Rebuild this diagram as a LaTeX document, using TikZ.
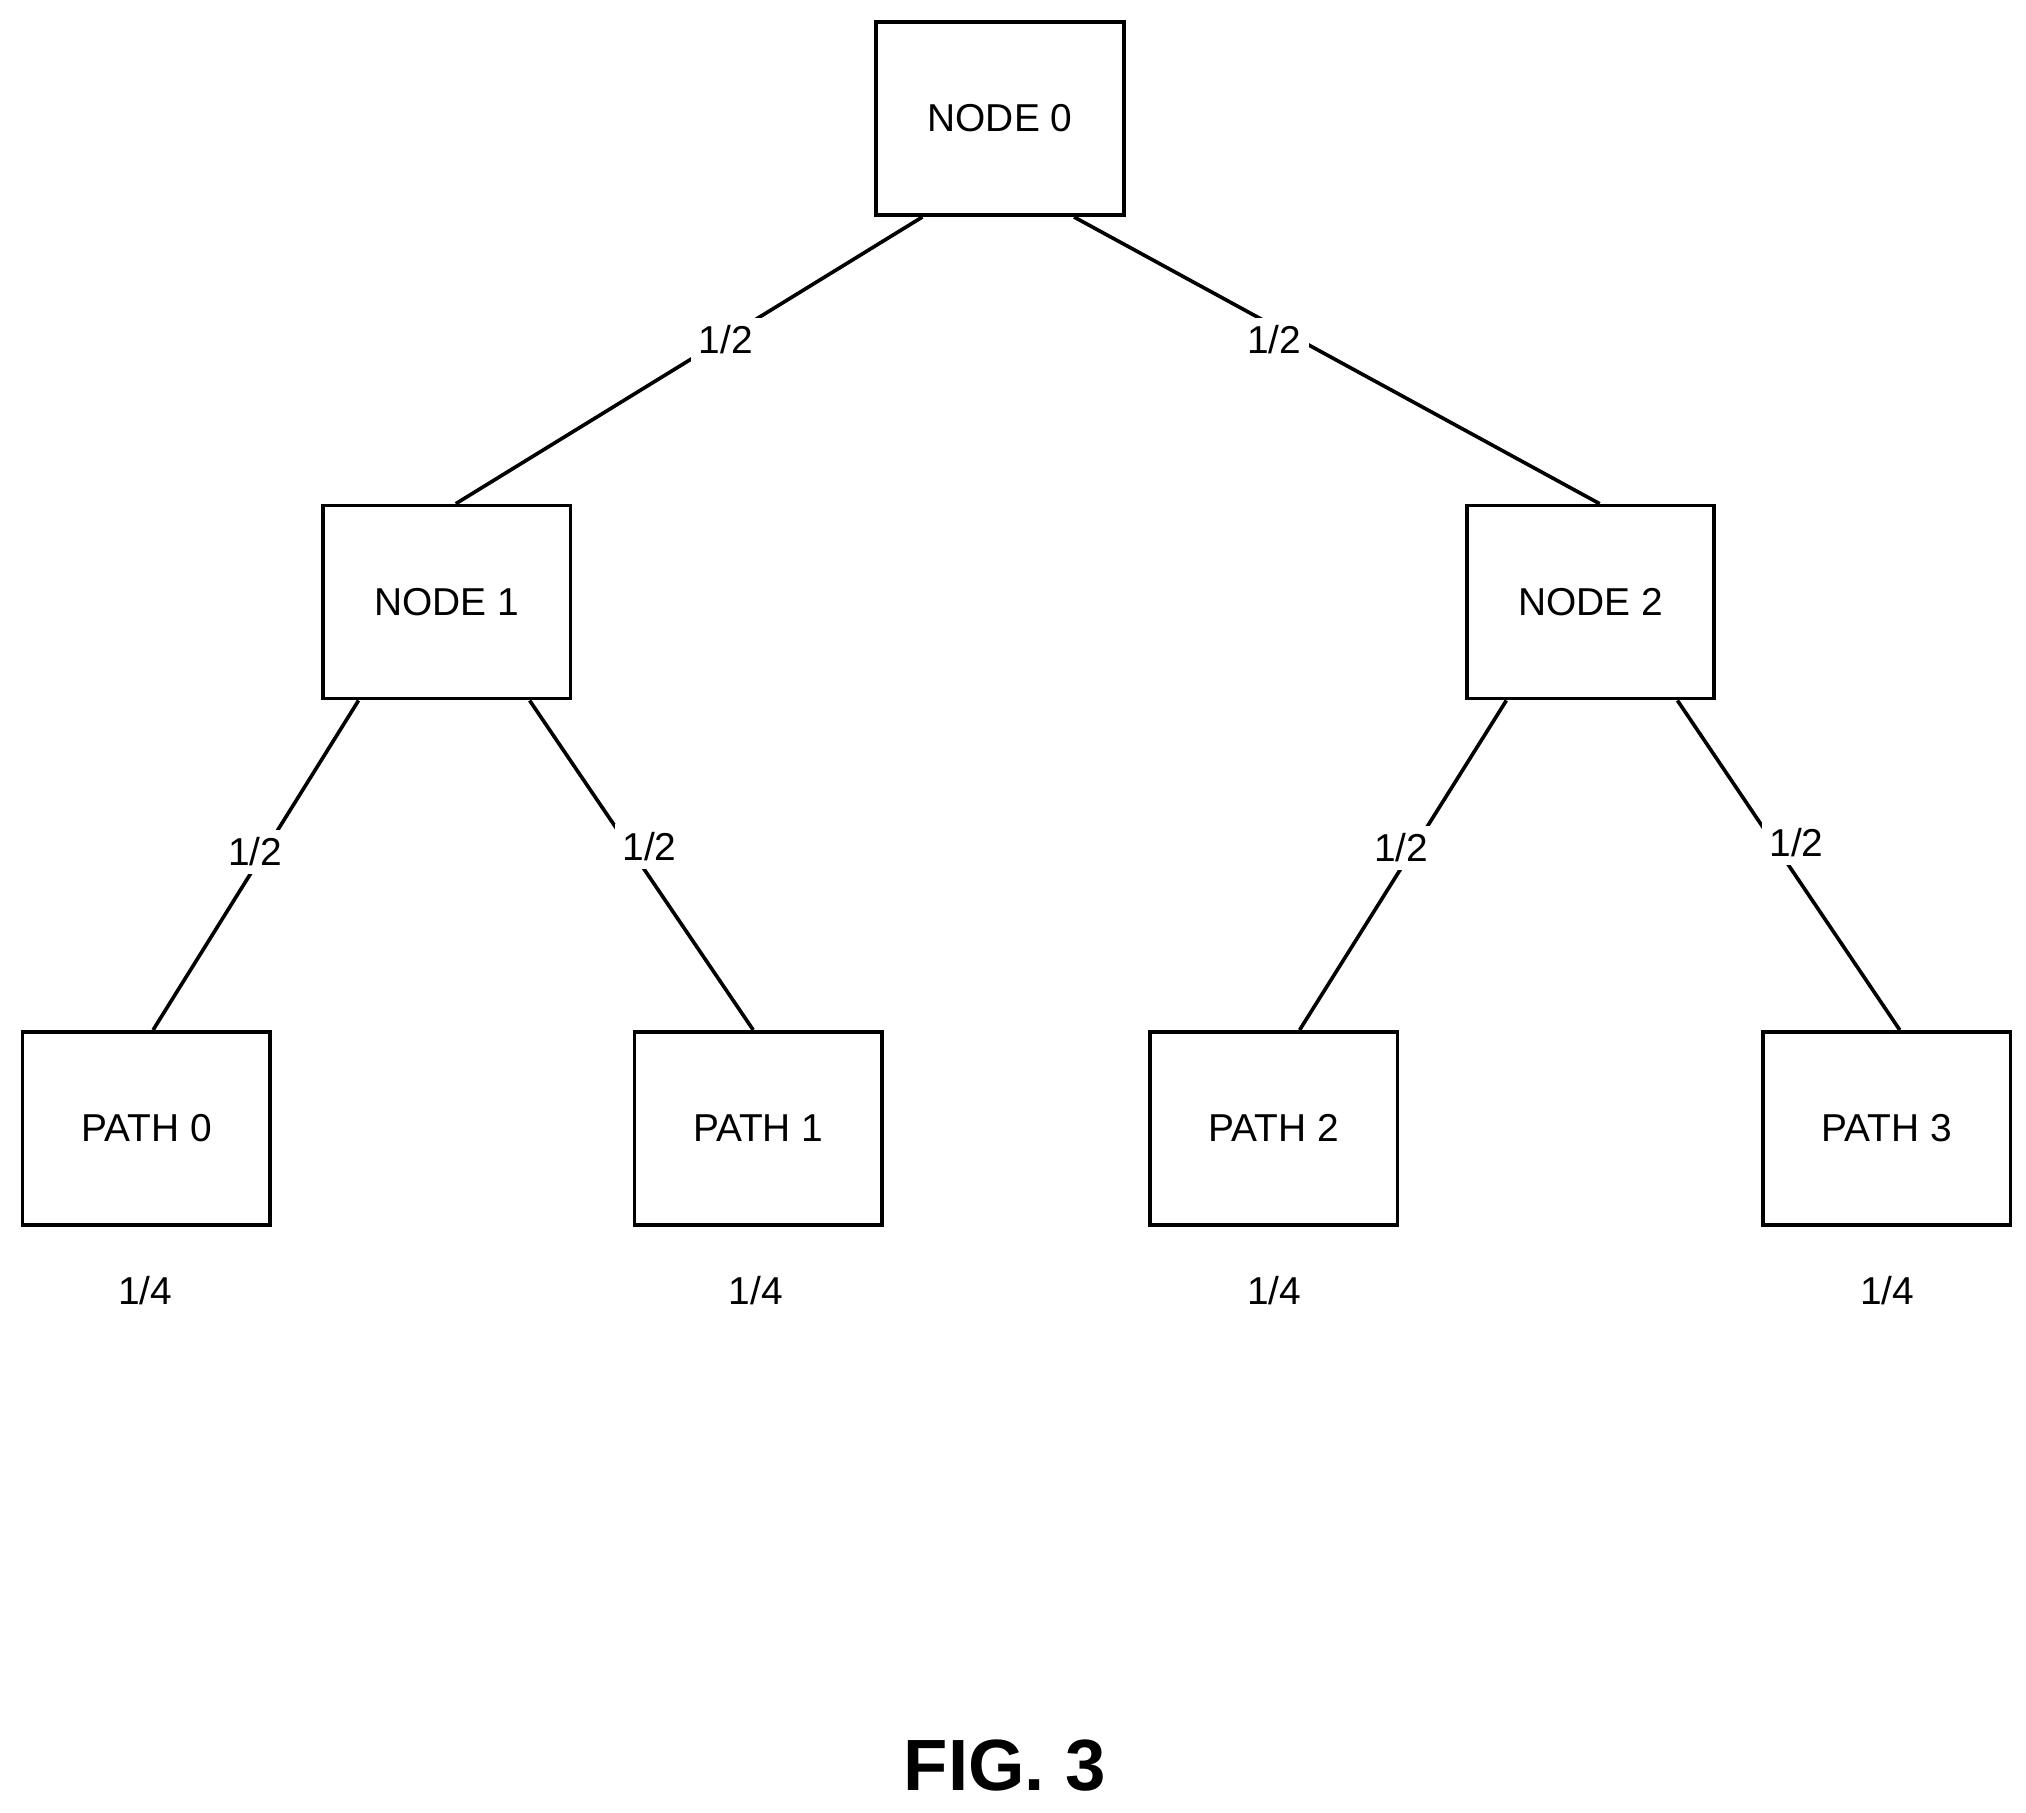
\documentclass[tikz,border=0pt]{standalone}
\usepackage{fontspec}
\setmainfont{Liberation Sans}
\usetikzlibrary{calc}
\begin{document}
\begin{tikzpicture}[x=0.5pt,y=-0.5pt,
  box/.style={draw,line width=1.4pt,minimum width=95.5pt,minimum height=74.5pt,inner sep=0pt,font=\fontsize{15}{18}\selectfont},
  lbl/.style={fill=white,inner sep=3pt,font=\fontsize{15}{18}\selectfont},
  edge/.style={line width=1.4pt}]
\useasboundingbox (0,0) rectangle (1563,1398);
\node[box] (n0) at (771.5,91.5) {NODE 0};
\node[box] (n1) at (344.5,464.5) {NODE 1};
\node[box] (n2) at (1227,464.5) {NODE 2};
\node[box] (p0) at (113,870.5) {PATH 0};
\node[box] (p1) at (585,870.5) {PATH 1};
\node[box] (p2) at (982.5,870.5) {PATH 2};
\node[box] (p3) at (1455.5,870.5) {PATH 3};
\draw[edge] ($(n0.south west)+(37,0)$) -- ($(n1.north west)+(104,0)$);
\draw[edge] ($(n0.south west)+(154,0)$) -- ($(n2.north west)+(104,0)$);
\draw[edge] ($(n1.south west)+(29,0)$) -- ($(p0.north west)+(102,0)$);
\draw[edge] ($(n1.south west)+(161,0)$) -- ($(p1.north west)+(93,0)$);
\draw[edge] ($(n2.south west)+(32,0)$) -- ($(p2.north west)+(117,0)$);
\draw[edge] ($(n2.south west)+(164,0)$) -- ($(p3.north west)+(107,0)$);
\node[lbl] (l1) at (560,262) {1/2};
\node[lbl] (l2) at (983,262) {1/2};
\node[lbl] (l3) at (197,657) {1/2};
\node[lbl] (l4) at (501,653) {1/2};
\node[lbl] (l5) at (1081,654) {1/2};
\node[lbl] (l6) at (1386,650) {1/2};
\node[lbl] (q0) at (112,996) {1/4};
\node[lbl] (q1) at (583,996) {1/4};
\node[lbl] (q2) at (983,996) {1/4};
\node[lbl] (q3) at (1456,996) {1/4};
\node[font=\bfseries\fontsize{28}{32}\selectfont] (fig) at (775,1362) {FIG. 3};
\end{tikzpicture}
\end{document}
